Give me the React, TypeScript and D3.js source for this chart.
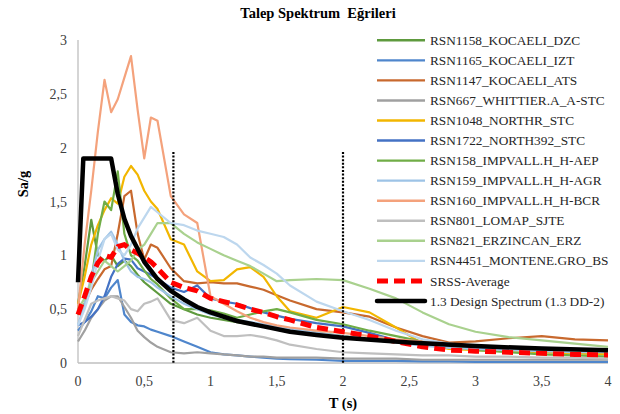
import React from "react";
import * as d3 from "d3";

const periods = [0, 0.05, 0.1, 0.15, 0.2, 0.25, 0.3, 0.35, 0.4, 0.45, 0.5, 0.55, 0.6, 0.7, 0.8, 0.9, 1.0, 1.1, 1.2, 1.3, 1.4, 1.5, 1.6, 1.8, 2.0, 2.2, 2.4, 2.6, 2.8, 3.0, 3.25, 3.5, 3.75, 4.0];

const rsn1158 = [0.55, 0.9, 1.33, 1.0, 0.95, 1.0, 0.9, 0.95, 0.9, 0.82, 0.75, 0.7, 0.65, 0.55, 0.5, 0.45, 0.42, 0.4, 0.38, 0.36, 0.35, 0.33, 0.31, 0.28, 0.25, 0.22, 0.19, 0.17, 0.15, 0.14, 0.13, 0.12, 0.11, 0.1];
const rsn1165 = [0.3, 0.38, 0.48, 0.62, 0.6, 0.7, 0.77, 0.45, 0.38, 0.35, 0.34, 0.31, 0.29, 0.25, 0.2, 0.15, 0.1, 0.08, 0.07, 0.06, 0.05, 0.04, 0.035, 0.03, 0.02, 0.02, 0.02, 0.015, 0.015, 0.01, 0.01, 0.01, 0.01, 0.01];
const rsn1147 = [0.45, 0.55, 0.68, 0.78, 0.87, 0.9, 1.2, 1.55, 1.6, 1.2, 0.96, 1.1, 1.07, 0.88, 0.76, 0.74, 0.75, 0.74, 0.74, 0.71, 0.68, 0.63, 0.58, 0.5, 0.47, 0.43, 0.33, 0.25, 0.19, 0.2, 0.23, 0.25, 0.22, 0.21];
const rsn667 = [0.2, 0.3, 0.42, 0.5, 0.58, 0.62, 0.62, 0.52, 0.42, 0.3, 0.24, 0.19, 0.15, 0.1, 0.09, 0.1, 0.09, 0.08, 0.07, 0.06, 0.06, 0.05, 0.05, 0.05, 0.04, 0.04, 0.04, 0.03, 0.03, 0.03, 0.03, 0.03, 0.03, 0.03];
const rsn1048 = [0.55, 0.8, 1.1, 1.28, 1.42, 1.53, 1.48, 1.73, 1.83, 1.75, 1.6, 1.5, 1.43, 1.15, 1.1, 0.85, 0.76, 0.77, 0.87, 0.89, 0.8, 0.62, 0.48, 0.42, 0.52, 0.47, 0.33, 0.18, 0.13, 0.12, 0.11, 0.1, 0.09, 0.08];
const rsn1722 = [0.35, 0.38, 0.43, 0.5, 0.62, 0.8, 0.92, 0.97, 0.96, 0.88, 0.85, 0.82, 0.78, 0.7, 0.66, 0.72, 0.6, 0.57, 0.55, 0.51, 0.47, 0.44, 0.41, 0.37, 0.34, 0.28, 0.21, 0.17, 0.15, 0.14, 0.14, 0.13, 0.13, 0.12];
const rsn158 = [0.45, 0.55, 0.75, 1.2, 1.5, 1.42, 1.78, 1.2, 1.0, 0.95, 0.86, 0.78, 0.73, 0.6, 0.5, 0.5, 0.49, 0.46, 0.42, 0.45, 0.48, 0.5, 0.47, 0.4, 0.36, 0.3, 0.25, 0.2, 0.16, 0.12, 0.1, 0.08, 0.07, 0.06];
const rsn159 = [0.35, 0.55, 0.8, 1.05, 1.15, 1.22, 1.1, 0.95, 0.85, 0.8, 0.78, 0.75, 0.7, 0.62, 0.55, 0.5, 0.45, 0.42, 0.4, 0.38, 0.36, 0.34, 0.32, 0.28, 0.25, 0.22, 0.19, 0.16, 0.14, 0.13, 0.12, 0.11, 0.1, 0.1];
const rsn160 = [0.5, 1.1, 1.6, 2.15, 2.63, 2.33, 2.45, 2.65, 2.85, 2.35, 1.9, 2.28, 2.25, 1.55, 1.38, 1.3, 0.62, 0.55, 0.48, 0.42, 0.38, 0.35, 0.33, 0.3, 0.28, 0.25, 0.22, 0.2, 0.18, 0.16, 0.15, 0.13, 0.12, 0.11];
const rsn801 = [0.25, 0.4, 0.55, 0.58, 0.6, 0.62, 0.6, 0.58, 0.5, 0.48, 0.55, 0.57, 0.6, 0.4, 0.37, 0.42, 0.3, 0.25, 0.25, 0.26, 0.24, 0.21, 0.17, 0.13, 0.1, 0.09, 0.08, 0.07, 0.07, 0.06, 0.06, 0.05, 0.05, 0.04];
const rsn821 = [0.5, 0.6, 0.75, 0.85, 0.95, 0.9, 0.85, 0.9, 0.95, 1.05, 1.1, 1.2, 1.3, 1.3, 1.2, 1.12, 1.06, 1.0, 0.95, 0.9, 0.83, 0.76, 0.77, 0.78, 0.77, 0.69, 0.6, 0.47, 0.36, 0.29, 0.24, 0.21, 0.18, 0.15];
const rsn4451 = [0.35, 0.5, 0.7, 0.95, 1.15, 1.2, 1.05, 1.0, 1.1, 1.25, 1.35, 1.45, 1.4, 1.3, 1.28, 1.23, 1.2, 1.17, 1.1, 0.98, 0.91, 0.83, 0.72, 0.57, 0.48, 0.4, 0.3, 0.22, 0.18, 0.16, 0.15, 0.14, 0.13, 0.12];
const srssAverage = [0.45, 0.62, 0.8, 0.93, 1.0, 0.98, 1.08, 1.1, 1.05, 1.02, 0.98, 0.94, 0.88, 0.75, 0.7, 0.67, 0.6, 0.57, 0.54, 0.5, 0.47, 0.43, 0.4, 0.33, 0.29, 0.25, 0.2, 0.15, 0.12, 0.11, 0.1, 0.09, 0.08, 0.075];

const designPeriods = [0, 0.04, 0.25, 0.3, 0.35, 0.4, 0.5, 0.6, 0.7, 0.8, 0.9, 1.0, 1.2, 1.4, 1.6, 1.8, 2.0, 2.5, 3.0, 3.5, 4.0];
const designSpectrum = [0.75, 1.9, 1.9, 1.57, 1.34, 1.18, 0.94, 0.78, 0.67, 0.59, 0.52, 0.47, 0.39, 0.34, 0.29, 0.26, 0.235, 0.19, 0.157, 0.134, 0.118];

const cornerPeriods = [0.72, 2.0];
const cornerTop = 1.96;

const seriesNames = [
  "RSN1158_KOCAELI_DZC",
  "RSN1165_KOCAELI_IZT",
  "RSN1147_KOCAELI_ATS",
  "RSN667_WHITTIER.A_A-STC",
  "RSN1048_NORTHR_STC",
  "RSN1722_NORTH392_STC",
  "RSN158_IMPVALL.H_H-AEP",
  "RSN159_IMPVALL.H_H-AGR",
  "RSN160_IMPVALL.H_H-BCR",
  "RSN801_LOMAP_SJTE",
  "RSN821_ERZINCAN_ERZ",
  "RSN4451_MONTENE.GRO_BS",
];
const seriesValues = [rsn1158, rsn1165, rsn1147, rsn667, rsn1048, rsn1722, rsn158, rsn159, rsn160, rsn801, rsn821, rsn4451];
const seriesColors = ["#5E9A3E", "#4F86CC", "#C8692E", "#A0A0A0", "#F2B600", "#4472C4", "#70AD47", "#9DC3E6", "#F4A27C", "#BFBFBF", "#A9D18E", "#BDD7EE"];

const xTicks = [0, 0.5, 1, 1.5, 2, 2.5, 3, 3.5, 4];
const yTicks = [0, 0.5, 1, 1.5, 2, 2.5, 3];

const W = 620;
const H = 414;
const FONT = "'Liberation Serif', 'Times New Roman', serif";

export default function App() {
  const x = d3.scaleLinear().domain([0, 4]).range([78, 608]);
  const y = d3.scaleLinear().domain([0, 3]).range([363, 40]);
  const fmt = (v: number) => String(v).replace(".", ",");

  const line = d3
    .line<[number, number]>()
    .x((d) => x(d[0]))
    .y((d) => y(d[1]));

  const legendX = 377;
  const legendY = (i: number) => 40.3 + i * 20.05;
  const textStyle = { fontFamily: FONT };

  return (
    <svg width={W} height={H} style={{ position: "absolute", left: 0, top: 0, background: "#fff", fontFamily: FONT }}>
      <rect x={0} y={0} width={W} height={H} fill="#fff" />
      <text x={318} y={18} textAnchor="middle" fontWeight="bold" fontSize={14.5} fill="#000" style={textStyle} xmlSpace="preserve">
        Talep Spektrum  Eğrileri
      </text>

      {/* axes */}
      <line x1={x(0)} x2={x(0)} y1={y(3)} y2={y(0)} stroke="#BFBFBF" strokeWidth={1.3} />
      <line x1={x(0)} x2={x(4)} y1={y(0)} y2={y(0)} stroke="#BFBFBF" strokeWidth={1.3} />

      {yTicks.map((t) => (
        <text key={"y" + t} x={67} y={y(t) + 5} textAnchor="end" fontSize={14} fill="#404040" style={textStyle}>
          {fmt(t)}
        </text>
      ))}
      {xTicks.map((t) => (
        <text key={"x" + t} x={x(t)} y={386} textAnchor="middle" fontSize={14} fill="#404040" style={textStyle}>
          {fmt(t)}
        </text>
      ))}
      <text x={x(2)} y={408} textAnchor="middle" fontWeight="bold" fontSize={14.5} fill="#000" style={textStyle}>
        T (s)
      </text>
      <text transform={`translate(28,184) rotate(-90)`} textAnchor="middle" fontWeight="bold" fontSize={14.5} fill="#000" style={textStyle}>
        Sa/g
      </text>

      {/* record spectra */}
      {seriesValues.map((vals, i) => (
        <path
          key={seriesNames[i]}
          d={line(periods.map((p, j) => [p, vals[j]]) as [number, number][]) || ""}
          fill="none"
          stroke={seriesColors[i]}
          strokeWidth={2.2}
          strokeLinejoin="round"
        />
      ))}

      {/* corner period dotted lines */}
      {cornerPeriods.map((p) => (
        <line key={"c" + p} x1={x(p)} x2={x(p)} y1={y(cornerTop)} y2={y(0)} stroke="#000" strokeWidth={2.2} strokeDasharray="2 1.6" />
      ))}

      {/* SRSS average */}
      <path
        d={line(periods.map((p, j) => [p, srssAverage[j]]) as [number, number][]) || ""}
        fill="none"
        stroke="#FF0000"
        strokeWidth={5}
        strokeDasharray="11 6"
        strokeLinejoin="round"
      />
      {/* design spectrum */}
      <path
        d={line(designPeriods.map((p, j) => [p, designSpectrum[j]]) as [number, number][]) || ""}
        fill="none"
        stroke="#000"
        strokeWidth={4.5}
        strokeLinejoin="round"
      />

      {/* legend */}
      {seriesNames.map((n, i) => (
        <g key={"lg" + n}>
          <line x1={legendX} x2={legendX + 48} y1={legendY(i)} y2={legendY(i)} stroke={seriesColors[i]} strokeWidth={2.4} />
          <text x={430} y={legendY(i) + 4.6} fontSize={13.3} fill="#262626" style={textStyle}>
            {n}
          </text>
        </g>
      ))}
      <line x1={legendX} x2={legendX + 48} y1={legendY(12)} y2={legendY(12)} stroke="#FF0000" strokeWidth={5} strokeDasharray="11 6" />
      <text x={430} y={legendY(12) + 4.6} fontSize={13.3} fill="#262626" style={textStyle}>
        SRSS-Average
      </text>
      <line x1={legendX} x2={legendX + 48} y1={legendY(13)} y2={legendY(13)} stroke="#000" strokeWidth={4.5} strokeLinecap="round" />
      <text x={430} y={legendY(13) + 4.6} fontSize={13.3} fill="#262626" style={textStyle}>
        1.3 Design Spectrum (1.3 DD-2)
      </text>
    </svg>
  );
}
